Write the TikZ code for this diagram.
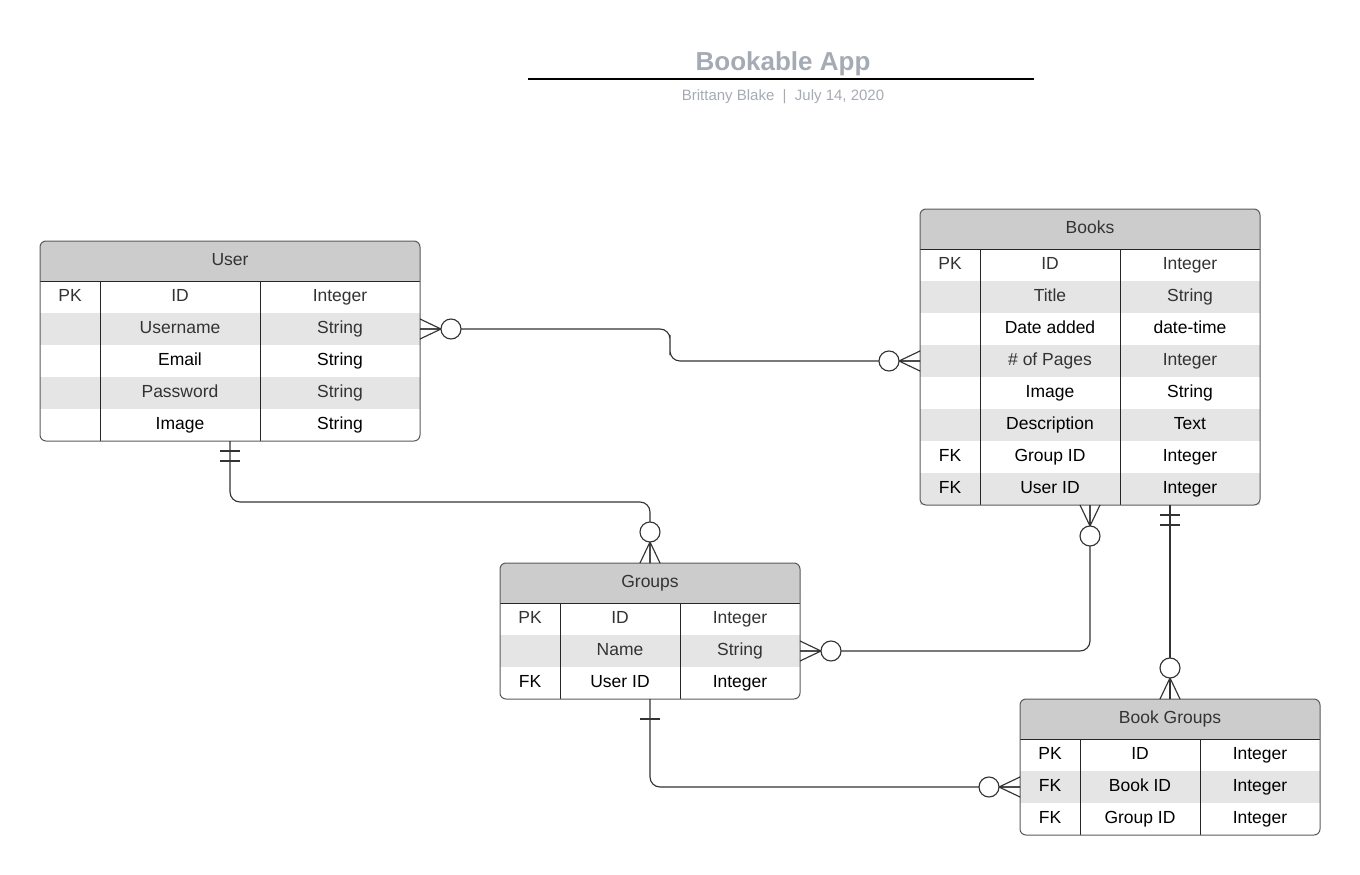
\documentclass[tikz,border=0pt]{standalone}
\usepackage{fontspec}
\setmainfont{Liberation Sans}
\usetikzlibrary{calc}
\definecolor{hdrgray}{HTML}{CCCCCC}
\definecolor{rowgray}{HTML}{E5E5E5}
\definecolor{txt}{HTML}{333333}
\definecolor{titlegray}{HTML}{A5ABB4}
\definecolor{edgegray}{HTML}{5A5A5A}
\tikzset{every picture/.style={line width=1pt}}
\tikzset{
  cell/.style={inner sep=0pt, outer sep=0pt, minimum height=32, text height=12.5pt, text depth=3.5pt,
    font=\fontsize{17.5}{21}\selectfont},
  headtext/.style={text=txt, inner sep=0pt, text height=12.5pt, text depth=3.5pt, font=\fontsize{17.5}{21}\selectfont},
  tablebox/.style={draw=edgegray, rounded corners=6, inner sep=0pt, outer sep=0pt},
  grid/.style={draw=black!85},
  rel/.style={draw=txt, line width=1.15pt},
  manyopt/.pic={\draw[rel] (0,10) -- (21,0) (0,0) -- (21,0) (0,-10) -- (21,0);
    \draw[rel, fill=white] (31,0) circle (10);},
  onemand/.pic={\draw[rel] (10,-10) -- (10,10) (20,-10) -- (20,10);},
  onlyone/.pic={\draw[rel] (20,-10) -- (20,10);}
}
% #1 name, #2 left, #3 top, #4-#6 column widths, #7 title, #8 rows key/name/type/fill/text
\newcommand{\ertable}[8]{%
  \pgfmathsetmacro{\tabw}{#4+#5+#6}
  \foreach \rk/\rn/\rt/\rf/\rc [count=\i] in {#8}{%
    \pgfmathsetmacro{\rowy}{#3+40+32*(\i-1)}
    \node[cell, fill=\rf, text=\rc, minimum width=#4, anchor=north west] (#1-k\i) at (#2,\rowy) {\rk};
    \node[cell, fill=\rf, text=\rc, minimum width=#5, anchor=west] (#1-n\i) at (#1-k\i.east) {\rn};
    \node[cell, fill=\rf, text=\rc, minimum width=#6, anchor=west] (#1-t\i) at (#1-n\i.east) {\rt};
    \xdef\nrows{\i}
  }
  % header
  \fill[hdrgray, rounded corners=6] (#2,#3) rectangle (#2+\tabw,#3+40);
  \fill[hdrgray] (#2,#3+20) rectangle (#2+\tabw,#3+40);
  \node[headtext] (#1-head) at (#2+\tabw/2,#3+20) {#7};
  % grid and outline
  \draw[grid] (#1-k1.north west) -- (#1-t1.north east)
    (#1-k1.north east) -- (#1-k\nrows.south east)
    (#1-n1.north east) -- (#1-n\nrows.south east);
  \pgfmathsetmacro{\tabh}{40+32*\nrows}
  \node[tablebox, minimum width=\tabw, minimum height=\tabh, anchor=north west] (#1) at (#2,#3) {};
}

\begin{document}
\begin{tikzpicture}[x=1pt, y=-1pt]
    \useasboundingbox (0,0) rectangle (1360,875);

    % title
    \node[text=titlegray, font=\bfseries\fontsize{26}{30}\selectfont] (title) at (783,63.5) {Bookable App};
    \draw[line width=2pt] (528,79) -- (1034,79);
    \node[text=titlegray, font=\fontsize{15}{18}\selectfont] (author) at (783,96.5) {Brittany Blake\ \ |\ \ July 14, 2020};

    % tables
    \ertable{user}{40}{241}{60}{160}{160}{User}{
      PK/ID/Integer/white/txt, {}/Username/String/rowgray/txt, {}/Email/String/white/black,
      {}/Password/String/rowgray/txt, {}/Image/String/white/black}
    \ertable{books}{920}{209}{60}{140}{140}{Books}{
      PK/ID/Integer/white/txt, {}/Title/String/rowgray/txt, {}/Date added/date-time/white/black,
      {}/\# of Pages/Integer/rowgray/txt, {}/Image/String/white/black, {}/Description/Text/rowgray/black,
      FK/Group ID/Integer/white/black, FK/User ID/Integer/rowgray/black}
    \ertable{groups}{500}{563}{60}{120}{120}{Groups}{
      PK/ID/Integer/white/txt, {}/Name/String/rowgray/txt, FK/User ID/Integer/white/black}
    \ertable{bg}{1020}{699}{60}{120}{120}{Book Groups}{
      PK/ID/Integer/white/black, FK/Book ID/Integer/rowgray/black, FK/Group ID/Integer/white/black}

    % relations
    \draw[rel, rounded corners=10] (user-t2.east) -| ($(user-t2.east)!0.5!(books-k4.west)$) |- (books-k4.west);
    \draw[rel, rounded corners=10] (user.south) |- ($(user.south)!0.5!(groups.north)$) -| (groups.north);
    \draw[rel, rounded corners=10] (books.south) |- (groups-t2.east);
    \draw[rel] (books.south -| bg.north) -- (bg.north);
    \draw[rel, rounded corners=10] (groups.south) |- (bg-k2.west);

    % ends
    \pic at (user-t2.east) {manyopt};
    \pic[rotate=180] at (books-k4.west) {manyopt};
    \pic[rotate=-90] at (user.south) {onemand};
    \pic[rotate=90] at (groups.north) {manyopt};
    \pic[rotate=-90] at (books.south) {manyopt};
    \pic at (groups-t2.east) {manyopt};
    \pic[rotate=-90] at (books.south -| bg.north) {onemand};
    \pic[rotate=90] at (bg.north) {manyopt};
    \pic[rotate=-90] at (groups.south) {onlyone};
    \pic[rotate=180] at (bg-k2.west) {manyopt};
\end{tikzpicture}
\end{document}
